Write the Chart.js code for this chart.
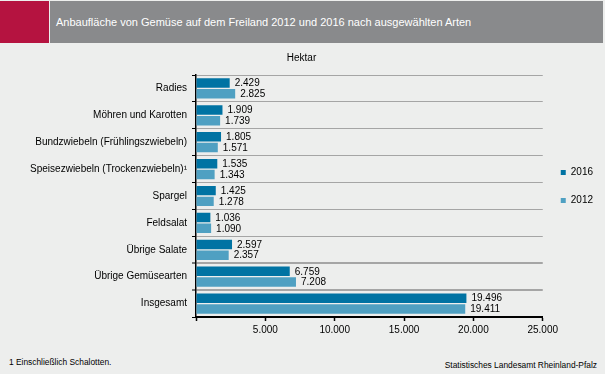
<!DOCTYPE html>
<html><head><meta charset="utf-8">
<script src="https://cdn.jsdelivr.net/npm/chart.js@4"></script>
<style>
html,body{margin:0;padding:0;background:#edeeed;width:605px;height:374px;overflow:hidden;font-family:"Liberation Sans",Arial,sans-serif;}
#red{position:absolute;left:0;top:1px;width:49px;height:42px;background:#b51340;}
#hdr{position:absolute;left:50px;top:1px;width:553px;height:42px;background:#898a8c;}
#hdr span{position:absolute;left:6px;top:15px;color:#fff;font-size:11px;line-height:13px;white-space:nowrap;}
#wrap{position:absolute;left:0;top:44px;width:605px;height:293px;}
#foot{position:absolute;left:9px;top:357px;font-size:8.4px;line-height:10px;color:#000;white-space:nowrap;}
#src{position:absolute;right:8px;top:360px;font-size:8.4px;line-height:10px;color:#000;white-space:nowrap;}
</style></head>
<body>
<div id="red"></div>
<div id="hdr"><span>Anbaufläche von Gemüse auf dem Freiland 2012 und 2016 nach ausgewählten Arten</span></div>
<div id="wrap"><canvas id="c"></canvas></div>
<div id="foot">1 Einschließlich Schalotten.</div>
<div id="src">Statistisches Landesamt Rheinland-Pfalz</div>
<script>
const categories = ['Radies','Möhren und Karotten','Bundzwiebeln (Frühlingszwiebeln)','Speisezwiebeln (Trockenzwiebeln)¹','Spargel','Feldsalat','Übrige Salate','Übrige Gemüsearten','Insgesamt'];
const values2016 = [2429,1909,1805,1535,1425,1036,2597,6759,19496];
const values2012 = [2825,1739,1571,1343,1278,1090,2357,7208,19411];
const seriesLabels = ['2016','2012'];
const seriesColors = ['#0073a3','#4fa0c2'];
const unitLabel = 'Hektar';
const xMin = 0, xMax = 25000, xStep = 5000;

function de(n){return String(n).replace(/\B(?=(\d{3})+(?!\d))/g,'.');}

Chart.defaults.font.family = '"Liberation Sans", Arial, sans-serif';
Chart.defaults.font.size = 10;
Chart.defaults.color = '#000';

const valueLabels = {
  id:'valueLabels',
  afterDatasetsDraw(chart){
    const ctx = chart.ctx;
    ctx.save();
    ctx.font = '10px "Liberation Sans", Arial, sans-serif';
    ctx.fillStyle = '#000';
    ctx.textAlign = 'left';
    ctx.textBaseline = 'middle';
    chart.data.datasets.forEach((ds,di)=>{
      const meta = chart.getDatasetMeta(di);
      meta.data.forEach((bar,i)=>{
        ctx.fillText(de(ds.data[i]), bar.x + 5, bar.y + 0.5);
      });
    });
    ctx.restore();
  }
};

new Chart(document.getElementById('c'), {
  type:'bar',
  data:{
    labels: categories,
    datasets:[
      {label:seriesLabels[0], data:values2016, backgroundColor:seriesColors[0], borderWidth:0, categoryPercentage:0.8, barPercentage:0.88},
      {label:seriesLabels[1], data:values2012, backgroundColor:seriesColors[1], borderWidth:0, categoryPercentage:0.8, barPercentage:0.88}
    ]
  },
  options:{
    indexAxis:'y',
    responsive:true,
    maintainAspectRatio:false,
    animation:false,
    layout:{padding:{left:0,right:2,top:0,bottom:0}},
    plugins:{
      title:{display:true, text:unitLabel, color:'#000', font:{size:10, weight:'normal'}, padding:{top:8,bottom:11}},
      legend:{
        position:'right',
        onClick:null,
        title:{display:true, text:'', font:{size:1}, padding:{top:-9, bottom:0}},
        labels:{boxWidth:5, boxHeight:5, padding:18, color:'#000', font:{size:10}}
      },
      tooltip:{enabled:false}
    },
    scales:{
      x:{
        min:xMin, max:xMax,
        afterFit(s){ s.height = 20; },
        ticks:{stepSize:xStep, color:'#000', padding:3, maxRotation:0, autoSkip:false, font:{size:10},
          callback:(v)=> v===0 ? '' : de(v)},
        grid:{display:true, drawOnChartArea:false, drawTicks:true, tickLength:4, tickColor:'#000', tickWidth:1.5},
        border:{display:true, color:'#000', width:2}
      },
      y:{
        afterFit(s){ s.width = 196; },
        ticks:{color:'#000', padding:5, font:{size:10}, autoSkip:false},
        grid:{display:true, offset:true, drawOnChartArea:true, drawTicks:true, tickLength:4, tickColor:'#000', tickWidth:1,
          color:'#a5a5a5',
          lineWidth:(ctx)=> (ctx.index===7 || ctx.index===8) ? 2 : 1},
        border:{display:true, color:'#000', width:1.5}
      }
    }
  },
  plugins:[valueLabels]
});
</script>
</body></html>
